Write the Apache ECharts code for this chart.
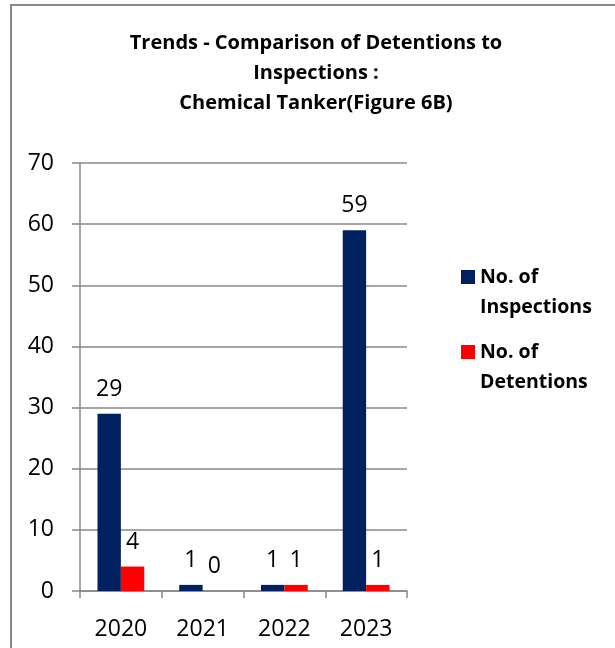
<!DOCTYPE html>
<html lang="en">
<head>
  <meta charset="UTF-8">
  <title>Chemical Tanker</title>
  <style>
    html, body { margin: 0; padding: 0; background: #fff; }
  </style>
</head>
<body>
  <div id="main" style="width: 615px;height:648px;"></div>
  <script src="https://cdn.jsdelivr.net/npm/echarts@6/dist/echarts.min.js"></script>
  <script type="text/javascript">
    var years = ['2020', '2021', '2022', '2023'];
    var inspections = [29, 1, 1, 59];
    var detentions = [4, 0, 1, 1];
    var seriesNames = ['No. of\nInspections', 'No. of\nDetentions'];

    var font = '"Open Sans", sans-serif';
    var gray = '#888888';

    var myChart = echarts.init(document.getElementById('main'));

    var labelStyle = {
      show: true,
      position: 'top',
      distance: 13,
      color: '#000',
      fontSize: 23,
      fontFamily: font
    };

    var option = {
      backgroundColor: '#fff',
      animation: false,
      title: {
        text: 'Trends - Comparison of Detentions to\nInspections :\nChemical Tanker(Figure 6B)',
        left: 316,
        textAlign: 'center',
        top: 28,
        padding: 0,
        textStyle: {
          fontSize: 20,
          fontWeight: 'bold',
          fontFamily: font,
          color: '#000',
          lineHeight: 30
        }
      },
      legend: {
        orient: 'vertical',
        left: 461,
        top: 232,
        padding: 0,
        itemGap: -15,
        itemWidth: 14,
        itemHeight: 14,
        icon: 'rect',
        // leading blank line keeps the icon level with the first text line
        formatter: function (name) { return ' \n' + name; },
        textStyle: {
          fontSize: 19.5,
          fontWeight: 'bold',
          fontFamily: font,
          color: '#000',
          lineHeight: 30
        },
        data: seriesNames
      },
      grid: {
        left: 80,
        right: 208,
        top: 163,
        bottom: 57
      },
      xAxis: {
        type: 'category',
        data: years,
        axisLine: { lineStyle: { color: gray, width: 1.5 } },
        axisTick: { show: true, length: 7, lineStyle: { color: gray, width: 1.5 } },
        axisLabel: {
          color: '#000',
          fontSize: 23,
          fontFamily: font,
          margin: 27
        }
      },
      yAxis: {
        type: 'value',
        min: 0,
        max: 70,
        interval: 10,
        axisLine: { show: true, lineStyle: { color: gray, width: 1.5 } },
        axisTick: { show: true, length: 8, lineStyle: { color: gray, width: 1.5 } },
        splitLine: { lineStyle: { color: gray, width: 1.5 } },
        axisLabel: {
          color: '#000',
          fontSize: 23,
          fontFamily: font,
          margin: 26
        }
      },
      series: [
        {
          name: seriesNames[0],
          type: 'bar',
          data: inspections,
          barWidth: '28.6%',
          barGap: '0%',
          itemStyle: { color: '#002060' },
          label: labelStyle
        },
        {
          name: seriesNames[1],
          type: 'bar',
          data: detentions,
          barWidth: '28.6%',
          barGap: '0%',
          itemStyle: { color: '#ff0000' },
          label: labelStyle
        }
      ],
      graphic: [
        {
          type: 'rect',
          shape: { x: 11, y: 5, width: 640, height: 700 },
          style: { fill: 'none', stroke: gray, lineWidth: 2 },
          silent: true
        }
      ]
    };

    myChart.setOption(option);
  </script>
</body>
</html>
